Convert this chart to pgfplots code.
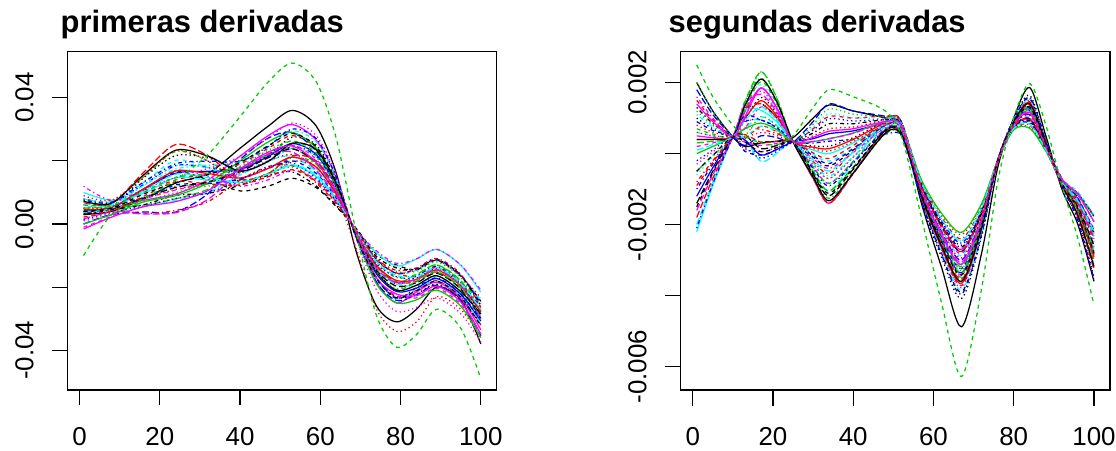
\documentclass[border=0pt]{standalone}
\usepackage{pgfplots}
\pgfplotsset{compat=1.18}
\usepackage{fontspec}
\setmainfont{Liberation Sans}
\definecolor{rblack}{RGB}{0,0,0}
\definecolor{rred}{RGB}{255,0,0}
\definecolor{rgreen}{RGB}{0,205,0}
\definecolor{rblue}{RGB}{0,0,255}
\definecolor{rcyan}{RGB}{0,255,255}
\definecolor{rmag}{RGB}{255,0,255}
\tikzset{
  l1/.style={solid},
  l2/.style={dash pattern=on 4bp off 4bp},
  l3/.style={dash pattern=on 1.3bp off 3bp},
  l4/.style={dash pattern=on 1.3bp off 3bp on 4bp off 3bp},
  l5/.style={dash pattern=on 7bp off 3bp},
}
\pgfplotsset{
  rstyle/.style={
    scale only axis, anchor=south west,
    axis line style={line width=1.3bp},
    tick style={line width=1.2bp, black},
    tick align=outside, major tick length=15.5bp,
    xtick pos=bottom, ytick pos=left,
    xtick={0,20,40,60,80,100},
    xticklabels={0,20,40,60,80,100},
    ticklabel style={font=\fontsize{26}{26}\selectfont},
    xticklabel style={anchor=base, inner sep=0pt},
    xticklabel shift=39.5bp,
    yticklabel style={rotate=90, anchor=base, inner sep=0pt},
    yticklabel shift=18.9bp,
    every axis plot/.append style={line width=1.25bp, smooth},
  }
}
\begin{document}
\begin{tikzpicture}
\useasboundingbox (0,0) rectangle (1116bp,451bp);
\begin{axis}[rstyle, at={(67.7bp,61bp)}, width=429bp, height=338.3bp,
  xmin=-2.96, xmax=103.96, ymin=-52.6, ymax=54.6,
  ytick={-40,-20,0,20,40}, yticklabels={-0.04,,0.00,,0.04}]
\addplot[rblack,l1] coordinates {(1,3)(8,4)(16,8)(24,13)(32,16)(40,24)(47,31)(53,36)(59,31)(64,16)(69,-9)(74,-26)(79,-31)(84,-27)(89,-20)(95,-24)(100,-38)};
\addplot[rred,l2] coordinates {(1,4)(8,5)(16,10)(24,14)(32,16)(40,19)(47,24)(53,28)(59,24)(64,13)(69,-4)(74,-17)(79,-23)(84,-21)(89,-18)(95,-23)(100,-32)};
\addplot[rgreen,l3] coordinates {(1,4)(8,5)(16,8)(24,12)(32,12)(40,13)(47,16)(53,18)(59,14)(64,7)(69,-2)(74,-11)(79,-15)(84,-15)(89,-12)(95,-17)(100,-26)};
\addplot[rblue,l4] coordinates {(1,8)(8,7)(16,12.5)(24,18.5)(32,18)(40,16.5)(47,20)(53,24.5)(59,21.5)(64,11.5)(69,-3.5)(74,-13.5)(79,-19)(84,-16.5)(89,-13.5)(95,-18.5)(100,-26.5)};
\addplot[rcyan,l5] coordinates {(1,0)(8,3)(16,5.5)(24,7.5)(32,10)(40,15.5)(47,20)(53,21.5)(59,16.5)(64,8.5)(69,-2.5)(74,-14.5)(79,-19)(84,-19.5)(89,-16.5)(95,-21.5)(100,-31.5)};
\addplot[rmag,l1] coordinates {(1,4)(8,5)(16,7.5)(24,9.5)(32,14)(40,21.5)(47,28)(53,31.5)(59,26.5)(64,14.5)(69,-4.5)(74,-18.5)(79,-25)(84,-21.5)(89,-18.5)(95,-23.5)(100,-33.5)};
\addplot[rblack,l2] coordinates {(1,4)(8,5)(16,10.5)(24,16.5)(32,14)(40,10.5)(47,12)(53,14.5)(59,11.5)(64,5.5)(69,-1.5)(74,-9.5)(79,-13)(84,-14.5)(89,-11.5)(95,-16.5)(100,-24.5)};
\addplot[rred,l3] coordinates {(1,5)(8,5.5)(16,8)(24,11)(32,13)(40,16)(47,20)(53,22)(59,18)(64,9)(69,-8)(74,-27)(79,-34)(84,-31)(89,-23)(95,-27)(100,-36)};
\addplot[rgreen,l4] coordinates {(1,8)(8,7)(16,15)(24,23)(32,20)(40,14)(47,16)(53,21)(59,19)(64,10)(69,-3)(74,-12)(79,-17)(84,-16)(89,-13)(95,-18)(100,-25)};
\addplot[rblue,l5] coordinates {(1,0)(8,3)(16,3.8)(24,3.8)(32,9.6)(40,20.4)(47,27.2)(53,29)(59,23)(64,12.4)(69,-3.8)(74,-18.4)(79,-24.2)(84,-22.4)(89,-19.4)(95,-24.4)(100,-35.4)};
\addplot[rcyan,l1] coordinates {(1,10)(8,7.5)(16,9.7)(24,14.7)(32,13.9)(40,13.1)(47,15.8)(53,18.5)(59,15)(64,7.6)(69,-2.2)(74,-9.1)(79,-13.3)(84,-11.1)(89,-8.1)(95,-13.1)(100,-21.6)};
\addplot[rmag,l2] coordinates {(1,-1)(8,2.5)(16,7.8)(24,10.8)(32,13.1)(40,17.4)(47,22.2)(53,25)(59,20.5)(64,10.9)(69,-3.3)(74,-17.4)(79,-22.7)(84,-23.4)(89,-20.4)(95,-25.4)(100,-34.9)};
\addplot[rblack,l3] coordinates {(1,5)(8,5.5)(16,14.7)(24,21.7)(32,20.9)(40,18.1)(47,21.8)(53,27.5)(59,25)(64,13.6)(69,-4.2)(74,-17.1)(79,-23.3)(84,-22.1)(89,-19.1)(95,-24.1)(100,-31.6)};
\addplot[rred,l4] coordinates {(1,3)(8,4.5)(16,3.3)(24,4.3)(32,7.1)(40,13.9)(47,18.2)(53,18.5)(59,13)(64,6.4)(69,-1.8)(74,-10.9)(79,-14.7)(84,-13.9)(89,-10.9)(95,-15.9)(100,-26.4)};
\addplot[rgreen,l5] coordinates {(1,5)(8,5.5)(16,6)(24,8)(32,11)(40,17)(47,22)(53,24)(59,19)(64,10)(69,-3)(74,-13.5)(79,-18.5)(84,-16)(89,-13)(95,-18)(100,-28)};
\addplot[rblue,l1] coordinates {(1,4)(8,5)(16,11.1)(24,16.1)(32,16.7)(40,17.3)(47,21.4)(53,25.5)(59,22)(64,11.8)(69,-3.6)(74,-15.8)(79,-21.4)(84,-20.3)(89,-17.3)(95,-22.3)(100,-30.8)};
\addplot[rcyan,l2] coordinates {(1,8)(8,7)(16,13.2)(24,20.2)(32,17.9)(40,13.6)(47,15.8)(53,20)(59,17.5)(64,9.1)(69,-2.7)(74,-11.1)(79,-15.8)(84,-14.6)(89,-11.6)(95,-16.6)(100,-24.1)};
\addplot[rmag,l3] coordinates {(1,1)(8,3.5)(16,10.8)(24,14.8)(32,17.6)(40,21.4)(47,27.2)(53,32)(59,28)(64,15.4)(69,-4.8)(74,-20.9)(79,-27.7)(84,-26.4)(89,-23.4)(95,-28.4)(100,-37.4)};
\addplot[rblack,l4] coordinates {(1,3)(8,4.5)(16,6.1)(24,9.1)(32,9.7)(40,12.3)(47,15.4)(53,16.5)(59,12)(64,5.8)(69,-1.6)(74,-10.3)(79,-13.9)(84,-14.3)(89,-11.3)(95,-16.3)(100,-25.8)};
\addplot[rred,l5] coordinates {(1,6.8)(8,6.4)(16,16.4)(24,25.2)(32,21.6)(40,14.2)(47,16)(53,21.6)(59,20)(64,10.6)(69,-3.2)(74,-13.2)(79,-18.4)(84,-18.2)(89,-15.2)(95,-20.2)(100,-26.8)};
\addplot[rgreen,l1] coordinates {(1,0)(8,3)(16,7)(24,9)(32,13)(40,20)(47,26)(53,29)(59,24)(64,13)(69,-4)(74,-19)(79,-25)(84,-24)(89,-21)(95,-26)(100,-36)};
\addplot[rblue,l2] coordinates {(1,6)(8,6)(16,8.4)(24,12.4)(32,12.8)(40,14.2)(47,17.6)(53,20)(59,16)(64,8.2)(69,-2.4)(74,-11.2)(79,-15.6)(84,-14.2)(89,-11.2)(95,-16.2)(100,-25.2)};
\addplot[rcyan,l3] coordinates {(1,7)(8,6.5)(16,12.4)(24,18.4)(32,17.8)(40,16.2)(47,19.6)(53,24)(59,21)(64,11.2)(69,-3.4)(74,-13.7)(79,-19.1)(84,-17.2)(89,-14.2)(95,-19.2)(100,-27.2)};
\addplot[rmag,l4] coordinates {(1,12)(8,7.5)(16,11)(24,17)(32,15)(40,12)(47,14)(53,17)(59,14)(64,7)(69,-2)(74,-8.5)(79,-12.5)(84,-11)(89,-8)(95,-13)(100,-21)};
\addplot[rblack,l5] coordinates {(1,3.4)(8,4.7)(16,8.2)(24,11.6)(32,13.3)(40,16.6)(47,21)(53,23.8)(59,19.5)(64,10.3)(69,-3.1)(74,-14.6)(79,-19.7)(84,-18.6)(89,-15.6)(95,-20.6)(100,-29.9)};
\addplot[rred,l1] coordinates {(1,4.6)(8,5.3)(16,11.2)(24,16.8)(32,16)(40,14.6)(47,17.6)(53,21.2)(59,18)(64,9.4)(69,-2.8)(74,-13.1)(79,-17.9)(84,-17.6)(89,-14.6)(95,-19.6)(100,-27.8)};
\addplot[rgreen,l2] coordinates {(1,6)(8,6)(16,10.3)(24,14.7)(32,16)(40,17.9)(47,22.4)(53,26.3)(59,22.5)(64,12.1)(69,-3.7)(74,-15.1)(79,-20.8)(84,-18.3)(89,-15.3)(95,-20.3)(100,-29.1)};
\addplot[rblue,l3] coordinates {(1,1.4)(8,3.7)(16,5.7)(24,8.1)(32,9.8)(40,14.1)(47,18)(53,19.3)(59,14.5)(64,7.3)(69,-2.1)(74,-12.6)(79,-16.7)(84,-17.1)(89,-14.1)(95,-19.1)(100,-28.9)};
\addplot[rcyan,l4] coordinates {(1,5.8)(8,5.9)(16,12.2)(24,17.4)(32,18.6)(40,19.6)(47,24.4)(53,29.4)(59,26)(64,14.2)(69,-4.4)(74,-17.3)(79,-23.7)(84,-21)(89,-18)(95,-23)(100,-31.4)};
\addplot[rmag,l5] coordinates {(1,1.6)(8,3.8)(16,3.2)(24,3.6)(32,7.8)(40,16.6)(47,22)(53,22.8)(59,17)(64,8.8)(69,-2.6)(74,-14)(79,-18.6)(84,-17.4)(89,-14.4)(95,-19.4)(100,-30.2)};
\addplot[rblack,l1] coordinates {(1,7.2)(8,6.6)(16,15.6)(24,23.4)(32,21.5)(40,16.8)(47,19.8)(53,25.6)(59,23.5)(64,12.7)(69,-3.9)(74,-15.1)(79,-21)(84,-19.4)(89,-16.4)(95,-21.4)(100,-28.5)};
\addplot[rred,l2] coordinates {(1,2.2)(8,4.1)(16,8.8)(24,13.4)(32,12.7)(40,12.4)(47,15)(53,17.2)(59,13.5)(64,6.7)(69,-1.9)(74,-11.6)(79,-15.5)(84,-16.8)(89,-13.8)(95,-18.8)(100,-27.5)};
\addplot[rgreen,l3] coordinates {(1,5)(8,5.5)(16,7.4)(24,10)(32,12.9)(40,18.2)(47,23.4)(53,26.2)(59,21.5)(64,11.5)(69,-3.5)(74,-15)(79,-20.5)(84,-17.8)(89,-14.8)(95,-19.8)(100,-29.5)};
\addplot[rblue,l4] coordinates {(1,7.6)(8,6.8)(16,13.3)(24,19.1)(32,19.9)(40,19.9)(47,24.6)(53,30.1)(59,27)(64,14.8)(69,-4.6)(74,-17)(79,-23.6)(84,-20.1)(89,-17.1)(95,-22.1)(100,-30.2)};
\addplot[rcyan,l5] coordinates {(1,3.8)(8,4.9)(16,10.4)(24,15.8)(32,14.7)(40,13.2)(47,15.8)(53,18.8)(59,15.5)(64,7.9)(69,-2.3)(74,-12)(79,-16.3)(84,-16.8)(89,-13.8)(95,-18.8)(100,-27.1)};
\addplot[rmag,l1] coordinates {(1,-1.6)(8,2.2)(16,5.5)(24,7.1)(32,10.6)(40,17.5)(47,22.8)(53,24.7)(59,19.5)(64,10.3)(69,-3.1)(74,-17.1)(79,-22.2)(84,-22.7)(89,-19.7)(95,-24.7)(100,-34.9)};
\addplot[rblack,l2] coordinates {(1,4)(8,5)(16,9.5)(24,13.1)(32,15.6)(40,19.5)(47,24.8)(53,28.7)(59,24.5)(64,13.3)(69,-4.1)(74,-17.3)(79,-23.4)(84,-21.1)(89,-18.1)(95,-23.1)(100,-32.3)};
\addplot[rred,l3] coordinates {(1,9)(8,7.5)(16,15.1)(24,23.3)(32,19.9)(40,13.3)(47,15)(53,19.9)(59,18)(64,9.4)(69,-2.8)(74,-10.9)(79,-15.7)(84,-14.5)(89,-11.5)(95,-16.5)(100,-23.4)};
\addplot[rgreen,l2] coordinates {(1,-10)(8,3)(16,8)(24,14)(32,22)(40,34)(47,45)(53,51)(59,45)(64,27)(69,-3)(74,-29)(79,-39)(84,-35)(89,-27)(95,-33)(100,-49)};
\end{axis}
\begin{axis}[rstyle, at={(680.7bp,61bp)}, width=429.3bp, height=338.3bp,
  xmin=-3, xmax=104, ymin=-66.6, ymax=28.7,
  ytick={-60,-40,-20,0,20}, yticklabels={-0.006,,-0.002,,0.002}]
\addplot[rblack,l1] coordinates {(1,20)(5,12)(10,4.7)(13,2)(17,3)(21,3.5)(25,4.5)(30,10)(34,13.7)(40,12)(48,10)(52,8)(57,-14)(62,-32)(67,-48.8)(72,-28)(76,-4)(80,10)(84,18.6)(88,5)(92,-10)(96,-20)(100,-36)};
\addplot[rred,l2] coordinates {(1,15)(5,9.5)(10,4.7)(13,4.25)(17,7.7)(21,6.15)(25,3.3)(30,7)(34,10.5)(40,10)(48,10.5)(52,9)(57,-12.4)(62,-26.8)(67,-37.2)(72,-21.6)(76,-2)(80,9.2)(84,14.6)(88,3.2)(92,-8.5)(96,-16.7)(100,-30.6)};
\addplot[rgreen,l3] coordinates {(1,12)(5,8)(10,4.7)(13,13.2)(17,23)(21,15.5)(25,3.3)(30,-3)(34,-7)(40,-1)(48,8)(52,7)(57,-11)(62,-24)(67,-33)(72,-19.5)(76,-2)(80,8.5)(84,12.5)(88,2.5)(92,-7.5)(96,-13)(100,-22.5)};
\addplot[rblue,l4] coordinates {(1,-10)(5,-3)(10,4.7)(13,9)(17,9.5)(21,7.25)(25,3.3)(30,3)(34,3.5)(40,4)(48,5.5)(52,5)(57,-8.4)(62,-18.8)(67,-25.2)(72,-15.6)(76,-2)(80,7.2)(84,8.6)(88,1.2)(92,-8.8)(96,-15.6)(100,-26.4)};
\addplot[rcyan,l5] coordinates {(1,-20)(5,-8)(10,4.7)(13,4)(17,-2.2)(21,0.1)(25,3.3)(30,-5)(34,-10.5)(40,-2.5)(48,9.25)(52,8)(57,-10.4)(62,-22.8)(67,-31.2)(72,-18.6)(76,-2)(80,8.2)(84,11.6)(88,2.2)(92,-7.8)(96,-13.6)(100,-23.4)};
\addplot[rmag,l1] coordinates {(1,5)(5,4.5)(10,4.7)(13,11.75)(17,18.5)(21,12.75)(25,3.3)(30,-7)(34,-14)(40,-5.5)(48,6.75)(52,6)(57,-9)(62,-20)(67,-27)(72,-16.5)(76,-2)(80,7.5)(84,9.5)(88,1.5)(92,-9)(96,-16.5)(100,-28.5)};
\addplot[rblack,l2] coordinates {(1,-15)(5,-5.5)(10,4.7)(13,12.25)(17,14)(21,10)(25,3.3)(30,-1)(34,-3.5)(40,1)(48,8)(52,7)(57,-13)(62,-28)(67,-39)(72,-22.5)(76,-2)(80,9.5)(84,15.5)(88,3.5)(92,-7)(96,-12.5)(100,-22.5)};
\addplot[rred,l3] coordinates {(1,8)(5,6)(10,4.7)(13,1.3)(17,0.5)(21,1.75)(25,3.3)(30,5)(34,7)(40,7.5)(48,9.25)(52,8)(57,-7.6)(62,-17.2)(67,-22.8)(72,-14.4)(76,-2)(80,6.8)(84,7.4)(88,0.8)(92,-8.3)(96,-13.7)(100,-22.2)};
\addplot[rgreen,l4] coordinates {(1,-5)(5,-0.5)(10,4.7)(13,14.75)(17,21.2)(21,14.4)(25,3.3)(30,-6.2)(34,-12.6)(40,-5.2)(48,5.5)(52,5)(57,-11.6)(62,-25.2)(67,-34.8)(72,-20.4)(76,-2)(80,8.8)(84,13.4)(88,2.8)(92,-8.6)(96,-16.6)(100,-30)};
\addplot[rblue,l5] coordinates {(1,18)(5,11)(10,4.7)(13,2.3)(17,5)(21,4.5)(25,3.3)(30,9)(34,14)(40,12)(48,10.5)(52,9)(57,-10)(62,-22)(67,-30)(72,-18)(76,-2)(80,8)(84,11)(88,2)(92,-7.2)(96,-11.6)(100,-19.2)};
\addplot[rcyan,l1] coordinates {(1,-22)(5,-9)(10,4.7)(13,12.3)(17,12.2)(21,8.9)(25,3.3)(30,1)(34,0)(40,3)(48,8)(52,7)(57,-12)(62,-26)(67,-36)(72,-21)(76,-2)(80,9)(84,14)(88,3)(92,-8)(96,-15)(100,-27)};
\addplot[rmag,l2] coordinates {(1,2)(5,3)(10,4.7)(13,3.2)(17,2.3)(21,2.85)(25,3.3)(30,-3.8)(34,-8.4)(40,-2.3)(48,6.75)(52,6)(57,-9.4)(62,-20.8)(67,-28.2)(72,-17.1)(76,-2)(80,7.7)(84,10.1)(88,1.7)(92,-7.7)(96,-12.8)(100,-21.3)};
\addplot[rblack,l3] coordinates {(1,10)(5,7)(10,4.7)(13,9.5)(17,15.8)(21,11.1)(25,3.3)(30,2.2)(34,2.1)(40,4.5)(48,8.75)(52,7.6)(57,-13.6)(62,-29.2)(67,-40.8)(72,-23.4)(76,-2)(80,9.8)(84,16.4)(88,3.8)(92,-8.9)(96,-18.5)(100,-34.8)};
\addplot[rred,l4] coordinates {(1,-8)(5,-2)(10,4.7)(13,7.2)(17,6.8)(21,5.6)(25,3.3)(30,-2.2)(34,-5.6)(40,0.6)(48,10)(52,8.6)(57,-8)(62,-18)(67,-24)(72,-15)(76,-2)(80,7)(84,8)(88,1)(92,-7.4)(96,-11.2)(100,-17.4)};
\addplot[rgreen,l5] coordinates {(1,3)(5,3.5)(10,4.7)(13,14.55)(17,23)(21,15.5)(25,3.3)(30,-5)(34,-10.5)(40,-3.8)(48,6)(52,5.4)(57,-10.6)(62,-23.2)(67,-31.8)(72,-18.9)(76,-2)(80,8.3)(84,11.9)(88,2.3)(92,-8.2)(96,-14.9)(100,-26.1)};
\addplot[rblue,l1] coordinates {(1,-12)(5,-4)(10,4.7)(13,3.8)(17,-0.4)(21,1.2)(25,3.3)(30,4.2)(34,5.6)(40,6.4)(48,8.5)(52,7.4)(57,-11.2)(62,-24.4)(67,-33.6)(72,-19.8)(76,-2)(80,8.6)(84,12.8)(88,2.6)(92,-8.4)(96,-15.8)(100,-28.2)};
\addplot[rcyan,l2] coordinates {(1,6)(5,5)(10,4.7)(13,7.1)(17,10.4)(21,7.8)(25,3.3)(30,-0.2)(34,-2.1)(40,1.6)(48,7.5)(52,6.6)(57,-9.6)(62,-21.2)(67,-28.8)(72,-17.4)(76,-2)(80,7.8)(84,10.4)(88,1.8)(92,-7)(96,-10.8)(100,-17.4)};
\addplot[rmag,l3] coordinates {(1,-3)(5,0.5)(10,4.7)(13,12.45)(17,17.6)(21,12.2)(25,3.3)(30,-3)(34,-7)(40,-1)(48,8)(52,7)(57,-12.6)(62,-27.2)(67,-37.8)(72,-21.9)(76,-2)(80,9.3)(84,14.9)(88,3.3)(92,-8.7)(96,-17.4)(100,-32.1)};
\addplot[rblack,l4] coordinates {(1,13)(5,8.5)(10,4.7)(13,2.05)(17,3.2)(21,3.4)(25,3.3)(30,5.8)(34,8.4)(40,8.4)(48,9.5)(52,8.2)(57,-8.8)(62,-19.6)(67,-26.4)(72,-16.2)(76,-2)(80,7.4)(84,9.2)(88,1.4)(92,-8)(96,-13.4)(100,-22.2)};
\addplot[rred,l5] coordinates {(1,-18)(5,-7)(10,4.7)(13,12.7)(17,14)(21,10)(25,3.3)(30,-7)(34,-14)(40,-5.7)(48,6.25)(52,5.6)(57,-11.8)(62,-25.6)(67,-35.4)(72,-20.7)(76,-2)(80,8.9)(84,13.7)(88,2.9)(92,-9)(96,-17.9)(100,-32.7)};
\addplot[rgreen,l1] coordinates {(1,0)(5,2)(10,4.7)(13,7)(17,8.6)(21,6.7)(25,3.3)(30,3.4)(34,4.2)(40,5.8)(48,9)(52,7.8)(57,-7.4)(62,-16.8)(67,-22.2)(72,-14.1)(76,-2)(80,6.7)(84,7.1)(88,0.7)(92,-7.6)(96,-11.5)(100,-17.7)};
\addplot[rblue,l2] coordinates {(1,9)(5,6.5)(10,4.7)(13,0.65)(17,-0.4)(21,1.2)(25,3.3)(30,-0.6)(34,-2.8)(40,1.4)(48,8)(52,7)(57,-10.8)(62,-23.6)(67,-32.4)(72,-19.2)(76,-2)(80,8.4)(84,12.2)(88,2.4)(92,-7.4)(96,-12.6)(100,-21.6)};
\addplot[rcyan,l3] coordinates {(1,-6)(5,-1)(10,4.7)(13,13.9)(17,19.4)(21,13.3)(25,3.3)(30,7.4)(34,11.2)(40,10.1)(48,9.75)(52,8.4)(57,-8.2)(62,-18.4)(67,-24.6)(72,-15.3)(76,-2)(80,7.1)(84,8.3)(88,1.1)(92,-8.2)(96,-13.7)(100,-22.5)};
\addplot[rmag,l4] coordinates {(1,16)(5,10)(10,4.7)(13,7.1)(17,13.1)(21,9.45)(25,3.3)(30,-1.4)(34,-4.2)(40,0.3)(48,7.25)(52,6.4)(57,-11.4)(62,-24.8)(67,-34.2)(72,-20.1)(76,-2)(80,8.7)(84,13.1)(88,2.7)(92,-7.8)(96,-14.1)(100,-24.9)};
\addplot[rblack,l5] coordinates {(1,-14)(5,-5)(10,4.7)(13,5.1)(17,1.4)(21,2.3)(25,3.3)(30,-5.8)(34,-11.9)(40,-4.4)(48,6.5)(52,5.8)(57,-9.2)(62,-20.4)(67,-27.6)(72,-16.8)(76,-2)(80,7.6)(84,9.8)(88,1.6)(92,-8.5)(96,-15.1)(100,-25.8)};
\addplot[rred,l1] coordinates {(1,4)(5,4)(10,4.7)(13,9.9)(17,14.9)(21,10.55)(25,3.3)(30,1.8)(34,1.4)(40,4)(48,8.5)(52,7.4)(57,-12.2)(62,-26.4)(67,-36.6)(72,-21.3)(76,-2)(80,9.1)(84,14.3)(88,3.1)(92,-8.3)(96,-16)(100,-29.1)};
\addplot[rgreen,l2] coordinates {(1,7)(5,5.5)(10,4.7)(13,12.45)(17,20.3)(21,13.85)(25,3.3)(30,-3.8)(34,-8.4)(40,-2.2)(48,7)(52,6.2)(57,-11.2)(62,-24.4)(67,-33.6)(72,-19.8)(76,-2)(80,8.6)(84,12.8)(88,2.6)(92,-8.4)(96,-15.8)(100,-28.2)};
\addplot[rblue,l3] coordinates {(1,-2)(5,1)(10,4.7)(13,1.8)(17,-1.3)(21,0.65)(25,3.3)(30,6.6)(34,9.8)(40,9.2)(48,9.5)(52,8.2)(57,-8.6)(62,-19.2)(67,-25.8)(72,-15.9)(76,-2)(80,7.3)(84,8.9)(88,1.3)(92,-7.3)(96,-11.2)(100,-17.7)};
\addplot[rcyan,l4] coordinates {(1,11)(5,7.5)(10,4.7)(13,4.85)(17,7.7)(21,6.15)(25,3.3)(30,-2.6)(34,-6.3)(40,-0.8)(48,7.5)(52,6.6)(57,-12.8)(62,-27.6)(67,-38.4)(72,-22.2)(76,-2)(80,9.4)(84,15.2)(88,3.4)(92,-8.5)(96,-16.9)(100,-31.2)};
\addplot[rmag,l5] coordinates {(1,-16)(5,-6)(10,4.7)(13,13.9)(17,16.7)(21,11.65)(25,3.3)(30,3.4)(34,4.2)(40,5.7)(48,8.75)(52,7.6)(57,-10.2)(62,-22.4)(67,-30.6)(72,-18.3)(76,-2)(80,8.1)(84,11.3)(88,2.1)(92,-7.9)(96,-13.8)(100,-23.7)};
\addplot[rblack,l1] coordinates {(1,4)(5,4)(10,4.7)(13,13.5)(17,21)(21,14.5)(25,3.3)(30,-6.6)(34,-13.3)(40,-5.5)(48,5.75)(52,5.2)(57,-12)(62,-26)(67,-36)(72,-21)(76,-2)(80,9)(84,14)(88,3)(92,-8.8)(96,-17.4)(100,-31.8)};
\addplot[rred,l2] coordinates {(1,-9)(5,-2.5)(10,4.7)(13,5.35)(17,3.2)(21,3.4)(25,3.3)(30,0.2)(34,-1.4)(40,2.3)(48,8.25)(52,7.2)(57,-9.2)(62,-20.4)(67,-27.6)(72,-16.8)(76,-2)(80,7.6)(84,9.8)(88,1.6)(92,-8.2)(96,-14.2)(100,-24)};
\addplot[rgreen,l3] coordinates {(1,20)(5,12)(10,4.7)(13,5)(17,10.4)(21,7.8)(25,3.3)(30,8.2)(34,12.6)(40,11.1)(48,10.25)(52,8.8)(57,-10.8)(62,-23.6)(67,-32.4)(72,-19.2)(76,-2)(80,8.4)(84,12.2)(88,2.4)(92,-7.5)(96,-12.9)(100,-22.2)};
\addplot[rblue,l4] coordinates {(1,-21)(5,-8.5)(10,4.7)(13,10.65)(17,9.5)(21,7.25)(25,3.3)(30,-4.2)(34,-9.1)(40,-2.7)(48,6.75)(52,6)(57,-13.2)(62,-28.4)(67,-39.6)(72,-22.8)(76,-2)(80,9.6)(84,15.8)(88,3.6)(92,-9.1)(96,-18.9)(100,-35.4)};
\addplot[rcyan,l5] coordinates {(1,1)(5,2.5)(10,4.7)(13,9.35)(17,13.1)(21,9.45)(25,3.3)(30,-1.8)(34,-4.9)(40,0.4)(48,8.5)(52,7.4)(57,-8.2)(62,-18.4)(67,-24.6)(72,-15.3)(76,-2)(80,7.1)(84,8.3)(88,1.1)(92,-8.1)(96,-13.4)(100,-21.9)};
\addplot[rmag,l1] coordinates {(1,14)(5,9)(10,4.7)(13,10.4)(17,18.5)(21,12.75)(25,3.3)(30,4.6)(34,6.3)(40,7)(48,9)(52,7.8)(57,-10.4)(62,-22.8)(67,-31.2)(72,-18.6)(76,-2)(80,8.2)(84,11.6)(88,2.2)(92,-7.1)(96,-11.5)(100,-19.2)};
\addplot[rblack,l2] coordinates {(1,-5)(5,-0.5)(10,4.7)(13,3.25)(17,0.5)(21,1.75)(25,3.3)(30,-5.4)(34,-11.2)(40,-4)(48,6.5)(52,5.8)(57,-11.4)(62,-24.8)(67,-34.2)(72,-20.1)(76,-2)(80,8.7)(84,13.1)(88,2.7)(92,-8.3)(96,-15.6)(100,-27.9)};
\addplot[rred,l3] coordinates {(1,6)(5,5)(10,4.7)(13,4.6)(17,5.9)(21,5.05)(25,3.3)(30,1.4)(34,0.7)(40,3.4)(48,8)(52,7)(57,-9.8)(62,-21.6)(67,-29.4)(72,-17.7)(76,-2)(80,7.9)(84,10.7)(88,1.9)(92,-8.6)(96,-15.7)(100,-27.3)};
\addplot[rgreen,l2] coordinates {(1,25)(5,16)(10,8)(13,5)(17,3)(21,2.5)(25,5)(30,13)(34,18)(40,16)(48,12)(52,5)(57,-18)(62,-42)(67,-62.8)(72,-38)(76,-8)(80,10)(84,19.7)(88,8)(92,-9)(96,-24)(100,-42.6)};
\end{axis}
\node[anchor=base west, inner sep=0pt, font=\fontsize{31}{31}\selectfont\bfseries] at (60.5bp,418bp) {primeras derivadas};
\node[anchor=base west, inner sep=0pt, font=\fontsize{31}{31}\selectfont\bfseries] at (668.5bp,418bp) {segundas derivadas};
\end{tikzpicture}
\end{document}
